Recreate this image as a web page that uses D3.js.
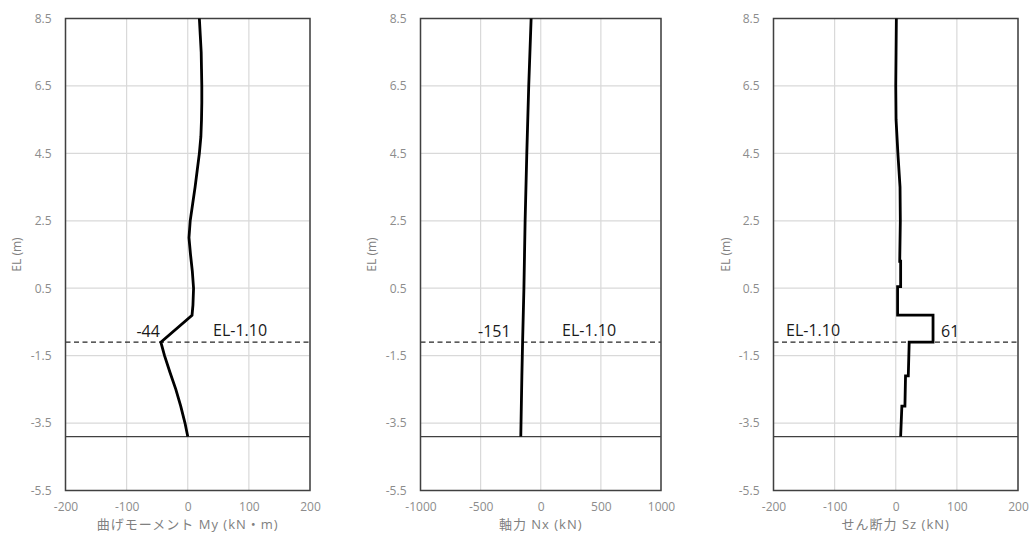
<!DOCTYPE html>
<html>
<head>
<meta charset="utf-8">
<script src="https://cdn.jsdelivr.net/npm/d3@7"></script>
<style>
  html, body { margin: 0; padding: 0; background: #ffffff; }
  svg { display: block; }
</style>
</head>
<body>
<svg id="chart" width="1035" height="544"></svg>
<script>
// ---- data ----
const elTicks = [8.5, 6.5, 4.5, 2.5, 0.5, -1.5, -3.5, -5.5];
const xTicksMoment = [-200, -100, 0, 100, 200];
const xTicksAxial = [-1000, -500, 0, 500, 1000];
const xTicksShear = [-200, -100, 0, 100, 200];

const momentEL  = [8.5, 8.0, 7.5, 7.0, 6.5, 6.0, 5.5, 5.0, 4.5, 4.0, 3.5, 3.0, 2.5, 2.0, 1.5, 1.0, 0.5, 0.0, -0.3, -1.1, -1.5, -2.0, -2.5, -3.0, -3.5, -3.9];
const momentVal = [19, 20.5, 22, 22.5, 23, 23, 22.5, 21.5, 19, 15.5, 12, 8, 4, 2, 4.5, 7.5, 9.5, 8.5, 7, -44, -38, -29, -19.5, -11.5, -4.5, 0];

const axialEL  = [8.5, 6.5, 4.5, 2.5, 0.5, -1.1, -2.1, -3.9];
const axialVal = [-80, -100, -116, -130, -140, -151, -157, -166];

const shearEL  = [8.5, 7.5, 6.5, 5.5, 4.5, 3.5, 2.5, 1.3, 1.3, 0.55, 0.55, -0.3, -0.3, -1.1, -1.1, -2.1, -2.1, -3.0, -3.0, -3.9];
const shearVal = [1, 0.5, 0, 0.5, 3.5, 7, 7.5, 6.5, 8, 8, 3, 3, 61, 61, 22, 20.5, 16, 15, 10, 8];

const refEL = -1.1;      // EL-1.10 dashed line
const baseEL = -3.9;     // bottom solid line
const refLabel = "EL-1.10";

const titles = ["曲げモーメント My (kN・m)", "軸力 Nx (kN)", "せん断力 Sz (kN)"];
const yTitle = "EL (m)";
const peakLabels = ["-44", "-151", "61"];

// ---- layout ----
const svg = d3.select("#chart");
const plotTop = 18.5, plotBottom = 490.5;
const panels = [
  { x0: 65.5, x1: 310, domain: [-200, 200], ticks: xTicksMoment, el: momentEL, val: momentVal,
    title: titles[0], peak: peakLabels[0], peakVal: -44, peakDx: -1, peakAnchor: "end",
    refX: 213, refAnchor: "start", yLabelX: 17 },
  { x0: 420.5, x1: 661, domain: [-1000, 1000], ticks: xTicksAxial, el: axialEL, val: axialVal,
    title: titles[1], peak: peakLabels[1], peakVal: -151, peakDx: -12, peakAnchor: "end",
    refX: 562, refAnchor: "start", yLabelX: 372 },
  { x0: 773.5, x1: 1018, domain: [-200, 200], ticks: xTicksShear, el: shearEL, val: shearVal,
    title: titles[2], peak: peakLabels[2], peakVal: 61, peakDx: 8, peakAnchor: "start",
    refX: 786, refAnchor: "start", yLabelX: 726 }
];

const y = d3.scaleLinear().domain([-5.5, 8.5]).range([plotBottom, plotTop]);
const tickFont = "'Open Sans', 'Noto Sans CJK JP', sans-serif";
const fmtY = d => d3.format(".1f")(d).replace("\u2212", "-");
const fmtX = d => d3.format("d")(d).replace("\u2212", "-");

panels.forEach(p => {
  const x = d3.scaleLinear().domain(p.domain).range([p.x0, p.x1]);
  const g = svg.append("g");

  // gridlines
  g.append("g").selectAll("line").data(p.ticks).join("line")
    .attr("x1", d => x(d)).attr("x2", d => x(d))
    .attr("y1", plotTop).attr("y2", plotBottom)
    .attr("stroke", "#d9d9d9").attr("stroke-width", 1.2);
  g.append("g").selectAll("line").data(elTicks).join("line")
    .attr("x1", p.x0).attr("x2", p.x1)
    .attr("y1", d => y(d)).attr("y2", d => y(d))
    .attr("stroke", "#d9d9d9").attr("stroke-width", 1.2);

  // y axis (labels only)
  const yAxis = d3.axisLeft(y).tickValues(elTicks).tickSize(0).tickPadding(14)
    .tickFormat(fmtY);
  const ya = g.append("g").attr("transform", `translate(${p.x0},0)`).call(yAxis);
  ya.select(".domain").remove();
  ya.selectAll("text").attr("fill", "#8c8c8c").attr("font-size", 12)
    .attr("font-family", tickFont);

  // x axis (labels only)
  const xAxis = d3.axisBottom(x).tickValues(p.ticks).tickSize(0).tickPadding(12)
    .tickFormat(fmtX);
  const xa = g.append("g").attr("transform", `translate(0,${plotBottom})`).call(xAxis);
  xa.select(".domain").remove();
  xa.selectAll("text").attr("fill", "#8c8c8c").attr("font-size", 12)
    .attr("font-family", tickFont);

  // base line
  g.append("line")
    .attr("x1", p.x0).attr("x2", p.x1)
    .attr("y1", y(baseEL)).attr("y2", y(baseEL))
    .attr("stroke", "#404040").attr("stroke-width", 1.3);

  // dashed reference line
  g.append("line")
    .attr("x1", p.x0).attr("x2", p.x1)
    .attr("y1", y(refEL)).attr("y2", y(refEL))
    .attr("stroke", "#262626").attr("stroke-width", 1.4)
    .attr("stroke-dasharray", "5,3.5");

  // plot border
  g.append("rect")
    .attr("x", p.x0).attr("y", plotTop)
    .attr("width", p.x1 - p.x0).attr("height", plotBottom - plotTop)
    .attr("fill", "none").attr("stroke", "#404040").attr("stroke-width", 1.5);

  // data line
  const pts = p.el.map((e, i) => [p.val[i], e]);
  const line = d3.line().x(d => x(d[0])).y(d => y(d[1]));
  g.append("path").datum(pts)
    .attr("d", line)
    .attr("fill", "none").attr("stroke", "#000").attr("stroke-width", 2.8)
    .attr("stroke-linejoin", "miter");

  // annotations
  g.append("text")
    .attr("x", x(p.peakVal) + p.peakDx).attr("y", y(refEL) - 5)
    .attr("text-anchor", p.peakAnchor)
    .attr("font-size", 16).attr("font-family", tickFont).attr("fill", "#1a1a1a")
    .text(p.peak);
  g.append("text")
    .attr("x", p.refX).attr("y", y(refEL) - 6)
    .attr("text-anchor", p.refAnchor)
    .attr("font-size", 16).attr("font-family", tickFont).attr("fill", "#1a1a1a")
    .text(refLabel);

  // axis titles
  g.append("text")
    .attr("x", (p.x0 + p.x1) / 2).attr("y", 529)
    .attr("text-anchor", "middle")
    .attr("font-size", 13).attr("letter-spacing", 1)
    .attr("font-family", tickFont).attr("fill", "#808080")
    .text(p.title);
  g.append("text")
    .attr("transform", `translate(${p.yLabelX + 4},${(plotTop + plotBottom) / 2}) rotate(-90)`)
    .attr("text-anchor", "middle")
    .attr("font-size", 12)
    .attr("font-family", tickFont).attr("fill", "#808080")
    .text(yTitle);
});
</script>
</body>
</html>
